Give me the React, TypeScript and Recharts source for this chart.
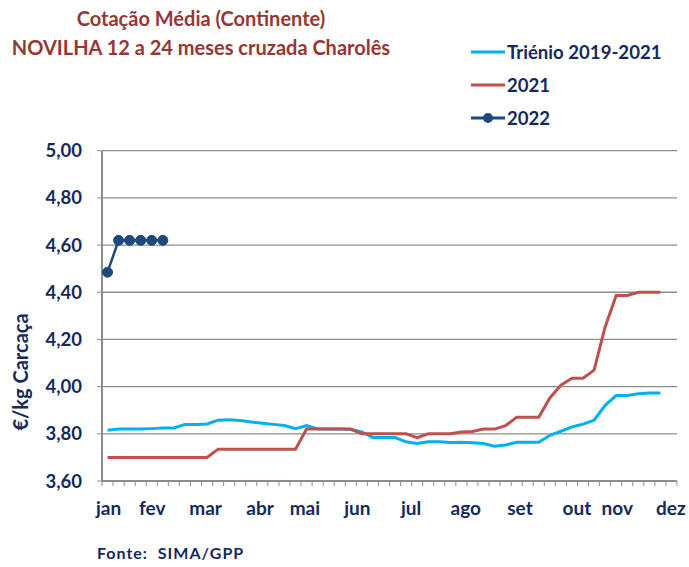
import { LineChart, Line, XAxis, YAxis, CartesianGrid } from 'recharts';

// weekly prices, €/kg carcaça
const weeks = Array.from({ length: 52 }, (_, i) => i + 1);

const trienio = [
  3.815, 3.82, 3.82, 3.82, 3.822, 3.825, 3.825, 3.84, 3.84, 3.842,
  3.858, 3.86, 3.856, 3.85, 3.845, 3.84, 3.835, 3.822, 3.835, 3.821,
  3.82, 3.82, 3.818, 3.808, 3.784, 3.784, 3.784, 3.766, 3.759, 3.766,
  3.766, 3.763, 3.764, 3.762, 3.759, 3.747, 3.753, 3.764, 3.764, 3.764,
  3.794, 3.811, 3.829, 3.841, 3.858, 3.921, 3.962, 3.962, 3.97, 3.973,
  3.973,
];

const y2021 = [
  3.7, 3.7, 3.7, 3.7, 3.7, 3.7, 3.7, 3.7, 3.7, 3.7,
  3.735, 3.735, 3.735, 3.735, 3.735, 3.735, 3.735, 3.735, 3.82, 3.82,
  3.82, 3.82, 3.82, 3.8, 3.8, 3.8, 3.8, 3.8, 3.784, 3.8,
  3.8, 3.8, 3.808, 3.81, 3.82, 3.82, 3.835, 3.87, 3.87, 3.87,
  3.952, 4.006, 4.036, 4.036, 4.07, 4.253, 4.386, 4.386, 4.4, 4.4,
  4.4,
];

const y2022 = [4.485, 4.62, 4.62, 4.62, 4.62, 4.62];

const monthLabels = ['jan', 'fev', 'mar', 'abr', 'mai', 'jun', 'jul', 'ago', 'set', 'out', 'nov', 'dez'];
const monthWeeks = [1.1, 5.05, 9.87, 14.8, 18.85, 23.6, 28.45, 33.4, 38.3, 43.45, 47.1, 51.95];

const yTicks = [3.6, 3.8, 4.0, 4.2, 4.4, 4.6, 4.8, 5.0];

const data = weeks.map((w, i) => ({
  week: w,
  trienio: trienio[i],
  y2021: y2021[i],
  y2022: y2022[i],
}));

const NAVY = '#14295e';
const GRID = '#8c8c8c';
const FONT = 'Lato, "Open Sans", sans-serif';

// small tick marks sit on week boundaries, month names float between them
const boundaries = Array.from({ length: 53 }, (_, i) => i + 0.5);

function XTick(props: any) {
  const { x, y, payload } = props;
  const idx = monthWeeks.indexOf(payload.value);
  if (idx >= 0) {
    return (
      <text x={x} y={y + 34} textAnchor="middle" fill={NAVY} fontSize={19} fontWeight={700} fontFamily={FONT}>
        {monthLabels[idx]}
      </text>
    );
  }
  return <line x1={x} y1={y} x2={x} y2={y + 5} stroke={GRID} strokeWidth={1} />;
}

const legendItems = [
  { name: 'Triénio 2019-2021', color: '#00b0f0', dot: false },
  { name: '2021', color: '#c0504d', dot: false },
  { name: '2022', color: '#1f497d', dot: true },
];

function LegendBox() {
  return (
    <div style={{ position: 'absolute', left: 471, top: 35, fontFamily: FONT }}>
      {legendItems.map((it) => (
        <div key={it.name} style={{ display: 'flex', alignItems: 'center', height: 33 }}>
          <svg width={35} height={14}>
            <line x1={0} y1={7} x2={34} y2={7} stroke={it.color} strokeWidth={3} />
            {it.dot && <circle cx={17} cy={7} r={5} fill={it.color} />}
          </svg>
          <span style={{ color: NAVY, fontSize: 18.6, fontWeight: 700, marginLeft: 1 }}>{it.name}</span>
        </div>
      ))}
    </div>
  );
}

export default function App() {
  return (
    <div style={{ position: 'absolute', left: 0, top: 0, width: 689, height: 567, background: '#fff', fontFamily: FONT }}>
      <div style={{ position: 'absolute', left: 0, top: 4, width: 402, textAlign: 'center', color: '#953735', fontSize: 20, fontWeight: 700, lineHeight: '29px', whiteSpace: 'nowrap' }}>
        <div>Cotação Média (Continente)</div>
        <div>NOVILHA 12 a 24 meses cruzada Charolês</div>
      </div>
      <div style={{ position: 'absolute', left: 8, top: 372, transform: 'translate(0, -50%) rotate(-90deg)', transformOrigin: 'center', color: NAVY, fontSize: 20, fontWeight: 700, whiteSpace: 'nowrap', width: 24, display: 'flex', justifyContent: 'center' }}>
        <span>€/kg Carcaça</span>
      </div>
      <div style={{ position: 'absolute', left: 97, top: 543, color: NAVY, fontSize: 16, fontWeight: 700, letterSpacing: 1, whiteSpace: 'pre' }}>
        Fonte:  SIMA/GPP
      </div>
      <LegendBox />
      <LineChart width={689} height={567} data={data} margin={{ top: 150.7, right: 12, bottom: 56, left: 42 }}>
        <CartesianGrid vertical={false} stroke={GRID} strokeWidth={1.3} />
        <XAxis
          dataKey="week"
          type="number"
          domain={[0.5, 52.5]}
          ticks={[...boundaries, ...monthWeeks]}
          interval={0}
          tick={<XTick />}
          tickLine={false}
          tickSize={0}
          tickMargin={0}
          axisLine={{ stroke: GRID, strokeWidth: 2 }}
          height={30}
        />
        <YAxis
          domain={[3.6, 5.0]}
          ticks={yTicks}
          interval={0}
          width={60}
          tickSize={5}
          tickMargin={15}
          tickLine={{ stroke: GRID }}
          axisLine={{ stroke: GRID, strokeWidth: 2 }}
          tickFormatter={(v: number) => v.toFixed(2).replace('.', ',')}
          tick={{ fill: NAVY, fontSize: 18.5, fontWeight: 700, fontFamily: FONT }}
        />
        <Line dataKey="trienio" stroke="#00b0f0" strokeWidth={3} dot={false} isAnimationActive={false} />
        <Line dataKey="y2021" stroke="#c0504d" strokeWidth={3} dot={false} isAnimationActive={false} />
        <Line
          dataKey="y2022"
          stroke="#1f497d"
          strokeWidth={2.5}
          dot={{ r: 5, fill: '#1f497d', stroke: '#1f497d', strokeWidth: 1 }}
          isAnimationActive={false}
        />
      </LineChart>
    </div>
  );
}
